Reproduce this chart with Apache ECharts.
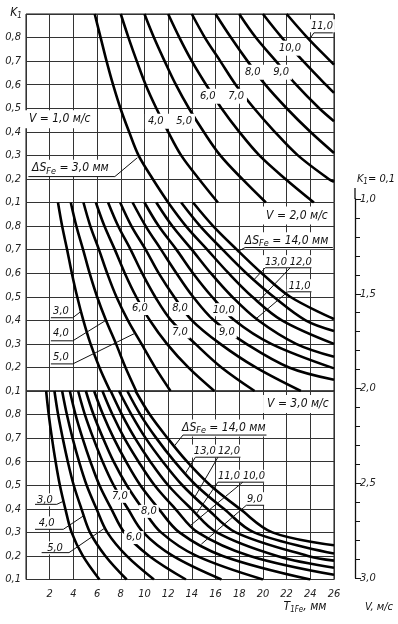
<!DOCTYPE html>
<html>
<head>
<meta charset="utf-8">
<script src="https://cdn.jsdelivr.net/npm/echarts@6/dist/echarts.min.js"></script>
<style>
  html, body { margin: 0; padding: 0; background: #fff; }
  #chart { width: 398px; height: 624px; }
</style>
</head>
<body>
<div id="chart"></div>
<script>
// panel speeds, V м/с
const speeds = [1.0, 2.0, 3.0];

// V = 1,0 м/с : ΔS_Fe values and curves [T_1Fe, K1]
const dsV1 = [3, 4, 5, 6, 7, 8, 9, 10, 11];
const curvesV1 = [
  [[5.8, 0.9], [6.3, 0.8], [6.8, 0.7], [7.35, 0.6], [7.97, 0.5], [8.7, 0.4], [9.5, 0.3], [10.7, 0.2], [12.0, 0.1]],
  [[8.0, 0.9], [8.65, 0.8], [9.35, 0.7], [10.1, 0.6], [11.0, 0.5], [12.0, 0.4], [13.1, 0.3], [14.6, 0.2], [16.2, 0.1]],
  [[10.0, 0.9], [10.8, 0.8], [11.7, 0.7], [12.65, 0.6], [13.75, 0.5], [15.0, 0.4], [16.4, 0.3], [18.25, 0.2], [20.25, 0.1]],
  [[12.0, 0.9], [12.95, 0.8], [14.0, 0.7], [15.2, 0.6], [16.5, 0.5], [18.0, 0.4], [19.7, 0.3], [21.9, 0.2], [24.3, 0.1]],
  [[14.0, 0.9], [15.1, 0.8], [16.4, 0.7], [17.7, 0.6], [19.25, 0.5], [21.0, 0.4], [22.95, 0.3], [25.55, 0.2], [26, 0.188]],
  [[16.0, 0.9], [17.3, 0.8], [18.7, 0.7], [20.2, 0.6], [22.0, 0.5], [24.0, 0.4], [26, 0.31]],
  [[18.0, 0.9], [19.4, 0.8], [21.1, 0.7], [22.8, 0.6], [24.75, 0.5], [26, 0.445]],
  [[20.0, 0.9], [21.6, 0.8], [23.4, 0.7], [25.3, 0.6], [26, 0.565]],
  [[22.0, 0.9], [23.75, 0.8], [25.7, 0.7], [26, 0.685]]
];

// V = 2,0 м/с
const dsV2 = [3, 4, 5, 6, 7, 8, 9, 10, 11, 12, 13, 14];
const curvesV2 = [
  [[2.7, 0.9], [3.05, 0.8], [3.47, 0.7], [3.87, 0.6], [4.32, 0.5], [4.84, 0.4], [5.45, 0.3], [6.2, 0.2], [7.1, 0.1]],
  [[3.78, 0.9], [4.25, 0.8], [4.82, 0.7], [5.37, 0.6], [6.0, 0.5], [6.75, 0.4], [7.6, 0.3], [8.4, 0.2], [9.3, 0.1]],
  [[4.85, 0.9], [5.43, 0.8], [6.16, 0.7], [6.85, 0.6], [7.63, 0.5], [8.6, 0.4], [9.75, 0.3], [10.9, 0.2], [12.2, 0.1]],
  [[5.9, 0.9], [6.62, 0.8], [7.5, 0.7], [8.34, 0.6], [9.3, 0.5], [10.45, 0.4], [11.9, 0.3], [13.7, 0.2], [15.9, 0.1]],
  [[6.93, 0.9], [7.78, 0.8], [8.83, 0.7], [9.8, 0.6], [10.9, 0.5], [12.25, 0.4], [14.3, 0.3], [16.5, 0.2], [19.3, 0.1]],
  [[7.95, 0.9], [8.9, 0.8], [10.1, 0.7], [11.2, 0.6], [12.5, 0.5], [14.0, 0.4], [16.4, 0.3], [19.4, 0.2], [23.2, 0.1]],
  [[9.0, 0.9], [10.1, 0.8], [11.4, 0.7], [12.7, 0.6], [14.1, 0.5], [15.85, 0.4], [18.6, 0.3], [22.2, 0.2], [26, 0.148]],
  [[10.0, 0.9], [11.2, 0.8], [12.7, 0.7], [14.1, 0.6], [15.7, 0.5], [17.6, 0.4], [20.7, 0.3], [26, 0.196]],
  [[11.0, 0.9], [12.35, 0.8], [14.0, 0.7], [15.6, 0.6], [17.4, 0.5], [19.6, 0.4], [22.8, 0.3], [26, 0.245]],
  [[12.0, 0.9], [13.5, 0.8], [15.3, 0.7], [17.1, 0.6], [19.1, 0.5], [21.6, 0.4], [26, 0.3]],
  [[13.1, 0.9], [14.7, 0.8], [16.6, 0.7], [18.6, 0.6], [20.9, 0.5], [23.6, 0.4], [26, 0.355]],
  [[14.1, 0.9], [15.8, 0.8], [17.8, 0.7], [19.9, 0.6], [22.3, 0.5], [26, 0.405]]
];

// V = 3,0 м/с
const dsV3 = [3, 4, 5, 6, 7, 8, 9, 10, 11, 12, 13, 14];
const curvesV3 = [
  [[1.7, 0.9], [1.92, 0.8], [2.19, 0.7], [2.5, 0.6], [2.86, 0.5], [3.32, 0.4], [3.85, 0.3], [4.8, 0.2], [6.2, 0.1]],
  [[2.4, 0.9], [2.71, 0.8], [3.1, 0.7], [3.53, 0.6], [4.03, 0.5], [4.68, 0.4], [5.4, 0.3], [6.7, 0.2], [8.5, 0.1]],
  [[3.05, 0.9], [3.45, 0.8], [3.93, 0.7], [4.48, 0.6], [5.12, 0.5], [5.95, 0.4], [6.86, 0.3], [8.5, 0.2], [10.8, 0.1]],
  [[3.7, 0.9], [4.18, 0.8], [4.77, 0.7], [5.44, 0.6], [6.2, 0.5], [7.2, 0.4], [8.3, 0.3], [10.4, 0.2], [13.5, 0.1]],
  [[4.4, 0.9], [4.97, 0.8], [5.68, 0.7], [6.47, 0.6], [7.4, 0.5], [8.6, 0.4], [9.9, 0.3], [12.4, 0.2], [16.5, 0.1]],
  [[5.05, 0.9], [5.7, 0.8], [6.5, 0.7], [7.4, 0.6], [8.5, 0.5], [9.85, 0.4], [11.4, 0.3], [14.4, 0.2], [20.0, 0.1]],
  [[5.75, 0.9], [6.5, 0.8], [7.4, 0.7], [8.45, 0.6], [9.65, 0.5], [11.2, 0.4], [12.95, 0.3], [16.6, 0.2], [24.0, 0.1]],
  [[6.45, 0.9], [7.3, 0.8], [8.3, 0.7], [9.5, 0.6], [10.85, 0.5], [12.6, 0.4], [14.5, 0.3], [18.9, 0.2], [26, 0.12]],
  [[7.15, 0.9], [8.1, 0.8], [9.2, 0.7], [10.5, 0.6], [12.0, 0.5], [13.95, 0.4], [16.1, 0.3], [21.2, 0.2], [26, 0.15]],
  [[7.85, 0.9], [8.9, 0.8], [10.1, 0.7], [11.55, 0.6], [13.2, 0.5], [15.3, 0.4], [17.7, 0.3], [23.8, 0.2], [26, 0.18]],
  [[8.55, 0.9], [9.65, 0.8], [11.0, 0.7], [12.55, 0.6], [14.35, 0.5], [16.7, 0.4], [19.25, 0.3], [26, 0.21]],
  [[9.25, 0.9], [10.45, 0.8], [11.95, 0.7], [13.6, 0.6], [15.55, 0.5], [18.05, 0.4], [20.8, 0.3], [26, 0.245]]
];

// right scale V, м/с
const vMin = 1.0;
const vMax = 3.0;

const FONT = '"Liberation Sans Narrow", "DejaVu Sans Condensed", "DejaVu Sans", sans-serif';
const INK = "#111";
const fmt = (v) => v.toFixed(1).replace(".", ",");

const chart = echarts.init(document.getElementById("chart"));

const panels = [
  { ds: dsV1, curves: curvesV1 },
  { ds: dsV2, curves: curvesV2 },
  { ds: dsV3, curves: curvesV3 }
];
const panelTops = [14, 202.5, 391];
const panelHeight = 188.5;

const grid = panelTops.map((t) => ({
  left: 26, right: 64, top: t, height: panelHeight,
  show: true, borderColor: INK, borderWidth: 1, backgroundColor: "#fff"
}));
grid.push({ left: 355, width: 1, top: 199, height: 379 });

const labelStyle = { color: "#222", fontStyle: "italic", fontSize: 11, fontFamily: FONT };

const xAxis = panelTops.map((t, i) => ({
  type: "value", gridIndex: i, min: 0, max: 26, interval: 2,
  axisLine: { show: false }, axisTick: { show: false },
  splitLine: { show: true, lineStyle: { color: "#333", width: 1 } },
  axisLabel: Object.assign({ show: i === 2, margin: 9, formatter: (v) => (v === 0 ? "" : String(v)) }, labelStyle)
}));
xAxis.push({ type: "value", gridIndex: 3, show: false });

const yAxis = panelTops.map((t, i) => ({
  type: "value", gridIndex: i, min: 0.1, max: 0.9, interval: 0.1,
  axisLine: { show: false }, axisTick: { show: false },
  splitLine: { show: true, lineStyle: { color: "#333", width: 1 } },
  axisLabel: Object.assign({ margin: 5, formatter: (v) => (v > 0.85 ? "" : fmt(v)) }, labelStyle)
}));
yAxis.push({
  type: "value", gridIndex: 3, position: "right", inverse: true,
  min: vMin, max: vMax, interval: 0.5,
  axisLine: { show: true, lineStyle: { color: INK, width: 1.3 } },
  axisTick: { show: true, length: 6, lineStyle: { color: INK, width: 1 } },
  minorTick: { show: true, splitNumber: 5, length: 5, lineStyle: { color: INK, width: 1 } },
  splitLine: { show: false },
  axisLabel: Object.assign({ margin: 4, formatter: fmt }, labelStyle)
});

const series = [];
panels.forEach((p, i) => {
  p.curves.forEach((pts, j) => {
    series.push({
      name: "V=" + speeds[i] + " ΔS=" + p.ds[j],
      type: "line", xAxisIndex: i, yAxisIndex: i,
      data: pts, smooth: 0.35, symbol: "none", silent: true,
      lineStyle: { color: "#000", width: 2.6 }
    });
  });
});

chart.setOption({ animation: false, grid, xAxis, yAxis, series });

// ---- annotations (positions in each panel's T/K units) ----
const px = (g, t, k) => chart.convertToPixel({ gridIndex: g }, [t, k]);
const font = (s) => "italic " + s + "px " + FONT;
const g = [];

function label(gi, t, k, text, pad, size) {
  const p = px(gi, t, k);
  g.push({
    type: "text", x: p[0], y: p[1], z: 50,
    style: {
      text, fill: INK, font: font(size || 11), align: "center", verticalAlign: "middle",
      backgroundColor: "#fff", padding: pad || [1, 2]
    }
  });
}
function dsLabel(gi, t, k, value) {
  const p = px(gi, t, k);
  g.push({
    type: "text", x: p[0], y: p[1], z: 50,
    style: {
      text: "{n|ΔS}{s|Fe}{n| = " + value + " мм}",
      fill: INK, align: "center", verticalAlign: "middle",
      backgroundColor: "#fff", padding: [1, 2],
      rich: {
        n: { font: font(12), fill: INK },
        s: { font: font(9), fill: INK, padding: [6, 0, 0, 0] }
      }
    }
  });
}
function line(gi, pts) {
  g.push({
    type: "polyline", z: 60,
    shape: { points: pts.map((q) => px(gi, q[0], q[1])) },
    style: { stroke: INK, lineWidth: 1, fill: null }
  });
}

// V = 1,0
label(0, 2.85, 0.453, "V = 1,0 м/с", [3, 4], 12);
label(0, 12.15, 0.445, "4,0    5,0", [2, 3]);
label(0, 16.54, 0.551, "6,0    7,0", [2, 3]);
label(0, 20.34, 0.653, "8,0    9,0", [2, 3]);
label(0, 22.28, 0.755, "10,0", [2, 3]);
label(0, 24.98, 0.85, "11,0", [1, 2]);
line(0, [[25.9, 0.82], [24.3, 0.82], [23.9, 0.79]]);
dsLabel(0, 3.75, 0.245, "3,0");
line(0, [[0.2, 0.21], [7.5, 0.21], [9.4, 0.29]]);

// V = 2,0
label(1, 22.87, 0.845, "V = 2,0 м/с", [3, 4], 12);
dsLabel(1, 22.0, 0.738, "14,0");
line(1, [[25.9, 0.709], [18.5, 0.709], [17.8, 0.69]]);
label(1, 21.1, 0.649, "13,0");
label(1, 23.2, 0.649, "12,0");
line(1, [[24.1, 0.623], [20.2, 0.623], [19.2, 0.57]]);
line(1, [[22.3, 0.623], [19.6, 0.48]]);
label(1, 23.1, 0.547, "11,0");
line(1, [[24.1, 0.521], [22.1, 0.521], [19.5, 0.41]]);
label(1, 16.7, 0.445, "10,0");
label(1, 16.96, 0.351, "9,0");
label(1, 13.0, 0.45, "8,0");
label(1, 13.0, 0.351, "7,0");
label(1, 9.62, 0.45, "6,0");
label(1, 2.95, 0.438, "3,0");
line(1, [[2.1, 0.411], [3.95, 0.411], [4.7, 0.44]]);
label(1, 2.95, 0.345, "4,0");
line(1, [[2.1, 0.313], [3.95, 0.313], [6.75, 0.4]]);
label(1, 2.95, 0.243, "5,0");
line(1, [[2.1, 0.215], [3.95, 0.215], [9.2, 0.345]]);

// V = 3,0
label(2, 22.95, 0.845, "V = 3,0 м/с", [3, 4], 12);
dsLabel(2, 16.7, 0.743, "14,0");
line(2, [[20.3, 0.713], [13.25, 0.713], [12.5, 0.665]]);
label(2, 15.1, 0.645, "13,0");
label(2, 17.13, 0.645, "12,0");
line(2, [[18.1, 0.619], [14.3, 0.619], [13.45, 0.55]]);
line(2, [[16.2, 0.619], [14.25, 0.45]]);
label(2, 17.13, 0.538, "11,0");
label(2, 19.24, 0.538, "10,0");
line(2, [[20.1, 0.513], [16.2, 0.513], [14.4, 0.38]]);
line(2, [[18.3, 0.513], [13.9, 0.33]]);
label(2, 19.32, 0.443, "9,0");
line(2, [[20.1, 0.415], [18.6, 0.415], [14.8, 0.25]]);
label(2, 1.6, 0.438, "3,0");
line(2, [[0.76, 0.419], [2.6, 0.419], [3.15, 0.432]]);
label(2, 1.75, 0.34, "4,0");
line(2, [[0.76, 0.313], [3.15, 0.313], [4.85, 0.37]]);
label(2, 2.45, 0.234, "5,0");
line(2, [[1.32, 0.214], [3.63, 0.214], [6.7, 0.32]]);
label(2, 7.93, 0.453, "7,0");
label(2, 10.38, 0.389, "8,0");
label(2, 9.11, 0.278, "6,0");

// V scale: short stub of the axis line above 1,0
const vTop = chart.convertToPixel({ gridIndex: 3 }, [0, vMin]);
g.push({
  type: "line", z: 60,
  shape: { x1: vTop[0], y1: vTop[1] - 11, x2: vTop[0], y2: vTop[1] },
  style: { stroke: INK, lineWidth: 1.3 }
});

// axis titles
g.push({
  type: "text", x: 16, y: 13, z: 50,
  style: {
    text: "{n|K}{s|1}", align: "center", verticalAlign: "middle",
    rich: { n: { font: font(12), fill: INK }, s: { font: font(8), fill: INK, padding: [6, 0, 0, 0] } }
  }
});
g.push({
  type: "text", x: 376, y: 179, z: 50,
  style: {
    text: "{n|K}{s|1}{n|= 0,1}", align: "center", verticalAlign: "middle",
    rich: { n: { font: font(11), fill: INK }, s: { font: font(8), fill: INK, padding: [6, 0, 0, 0] } }
  }
});
g.push({
  type: "text", x: 305, y: 607, z: 50,
  style: {
    text: "{n|T}{s|1Fe}{n|, мм}", align: "center", verticalAlign: "middle",
    rich: { n: { font: font(12), fill: INK }, s: { font: font(8), fill: INK, padding: [6, 0, 0, 0] } }
  }
});
g.push({
  type: "text", x: 379, y: 607, z: 50,
  style: { text: "V, м/с", font: font(11), fill: INK, align: "center", verticalAlign: "middle" }
});

chart.setOption({ graphic: g });
</script>
</body>
</html>
